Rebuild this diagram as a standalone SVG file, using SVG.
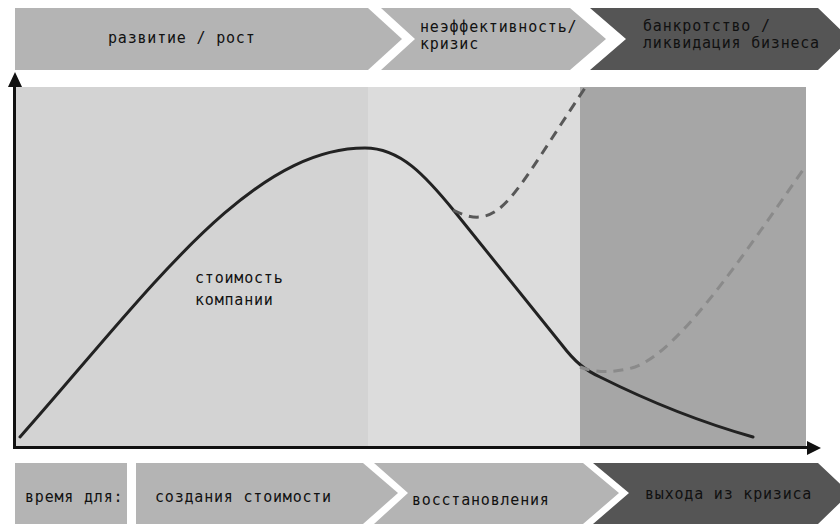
<svg xmlns="http://www.w3.org/2000/svg" width="840" height="524" viewBox="0 0 840 524">
<style>
.lbl{font-family:"DejaVu Sans Mono","Liberation Mono",monospace;font-size:15px;letter-spacing:0.8px;fill:#111}
.light{fill:#b4b4b4}
.dark{fill:#555555}
.axis{stroke:#111;stroke-width:3;fill:none}
.main{stroke:#222;stroke-width:3;fill:none;stroke-linecap:round}
.dash1{stroke:#585858;stroke-width:3;fill:none;stroke-dasharray:10 7}
.dash2{stroke:#8a8a8a;stroke-width:3;fill:none;stroke-dasharray:10 7}
</style>
<rect width="840" height="524" fill="#ffffff"/>
<g id="plot-area">
<rect x="15" y="87" width="353" height="359" fill="#d3d3d3"/>
<rect x="368" y="87" width="212" height="359" fill="#dcdcdc"/>
<rect x="580" y="87" width="226" height="359" fill="#a6a6a6"/>
</g>
<g id="phase-growth">
<polygon class="light" points="15,8 368,8 402,39 368,70 15,70"/>
<text class="lbl" x="108" y="43">развитие / рост</text>
</g>
<g id="phase-crisis">
<polygon class="light" points="381,8 570,8 606,39 570,70 381,70 415,39"/>
<text class="lbl" x="420" y="32">неэффективность/</text>
<text class="lbl" x="420" y="49">кризис</text>
</g>
<g id="phase-bankruptcy">
<polygon class="dark" points="590,8 818,8 850,39 818,70 590,70 626,39"/>
<text class="lbl" x="643" y="31">банкротство /</text>
<text class="lbl" x="643" y="48">ликвидация бизнеса</text>
</g>
<g id="time-label">
<rect class="light" x="15" y="463" width="112" height="61"/>
<text class="lbl" x="25" y="502">время для:</text>
</g>
<g id="time-create">
<polygon class="light" points="136,463 363,463 398,493 363,524 136,524"/>
<text class="lbl" x="155" y="502">создания стоимости</text>
</g>
<g id="time-recover">
<polygon class="light" points="374,463 583,463 619,493 583,524 374,524 408,493"/>
<text class="lbl" x="412" y="505">восстановления</text>
</g>
<g id="time-exit">
<polygon class="dark" points="593,463 818,463 850,493 818,524 593,524 629,493"/>
<text class="lbl" x="645" y="499">выхода из кризиса</text>
</g>
<g id="value-label">
<text class="lbl" x="195" y="283">стоимость</text>
<text class="lbl" x="195" y="305">компании</text>
</g>
<g id="connectors">
<line class="axis" x1="14.5" y1="449" x2="14.5" y2="84"/>
<polygon points="8,87 22,87 15,72" fill="#111"/>
<line class="axis" x1="13" y1="447.5" x2="810" y2="447.5"/>
<polygon points="807,441 807,455 821,448" fill="#111"/>
<path class="main" d="M20,437 C150,290 250,148 365,148 C400,148 425,175 455,212 L562,345 C575,362 585,370 600,377 C650,402 700,422 753,437"/>
<path class="dash1" d="M453,210 C465,216 475,219 485,216 C510,210 530,170 585,88"/>
<path class="dash2" d="M580,367 C595,373 615,373 635,367 C680,350 740,260 803,170"/>
</g>
</svg>
